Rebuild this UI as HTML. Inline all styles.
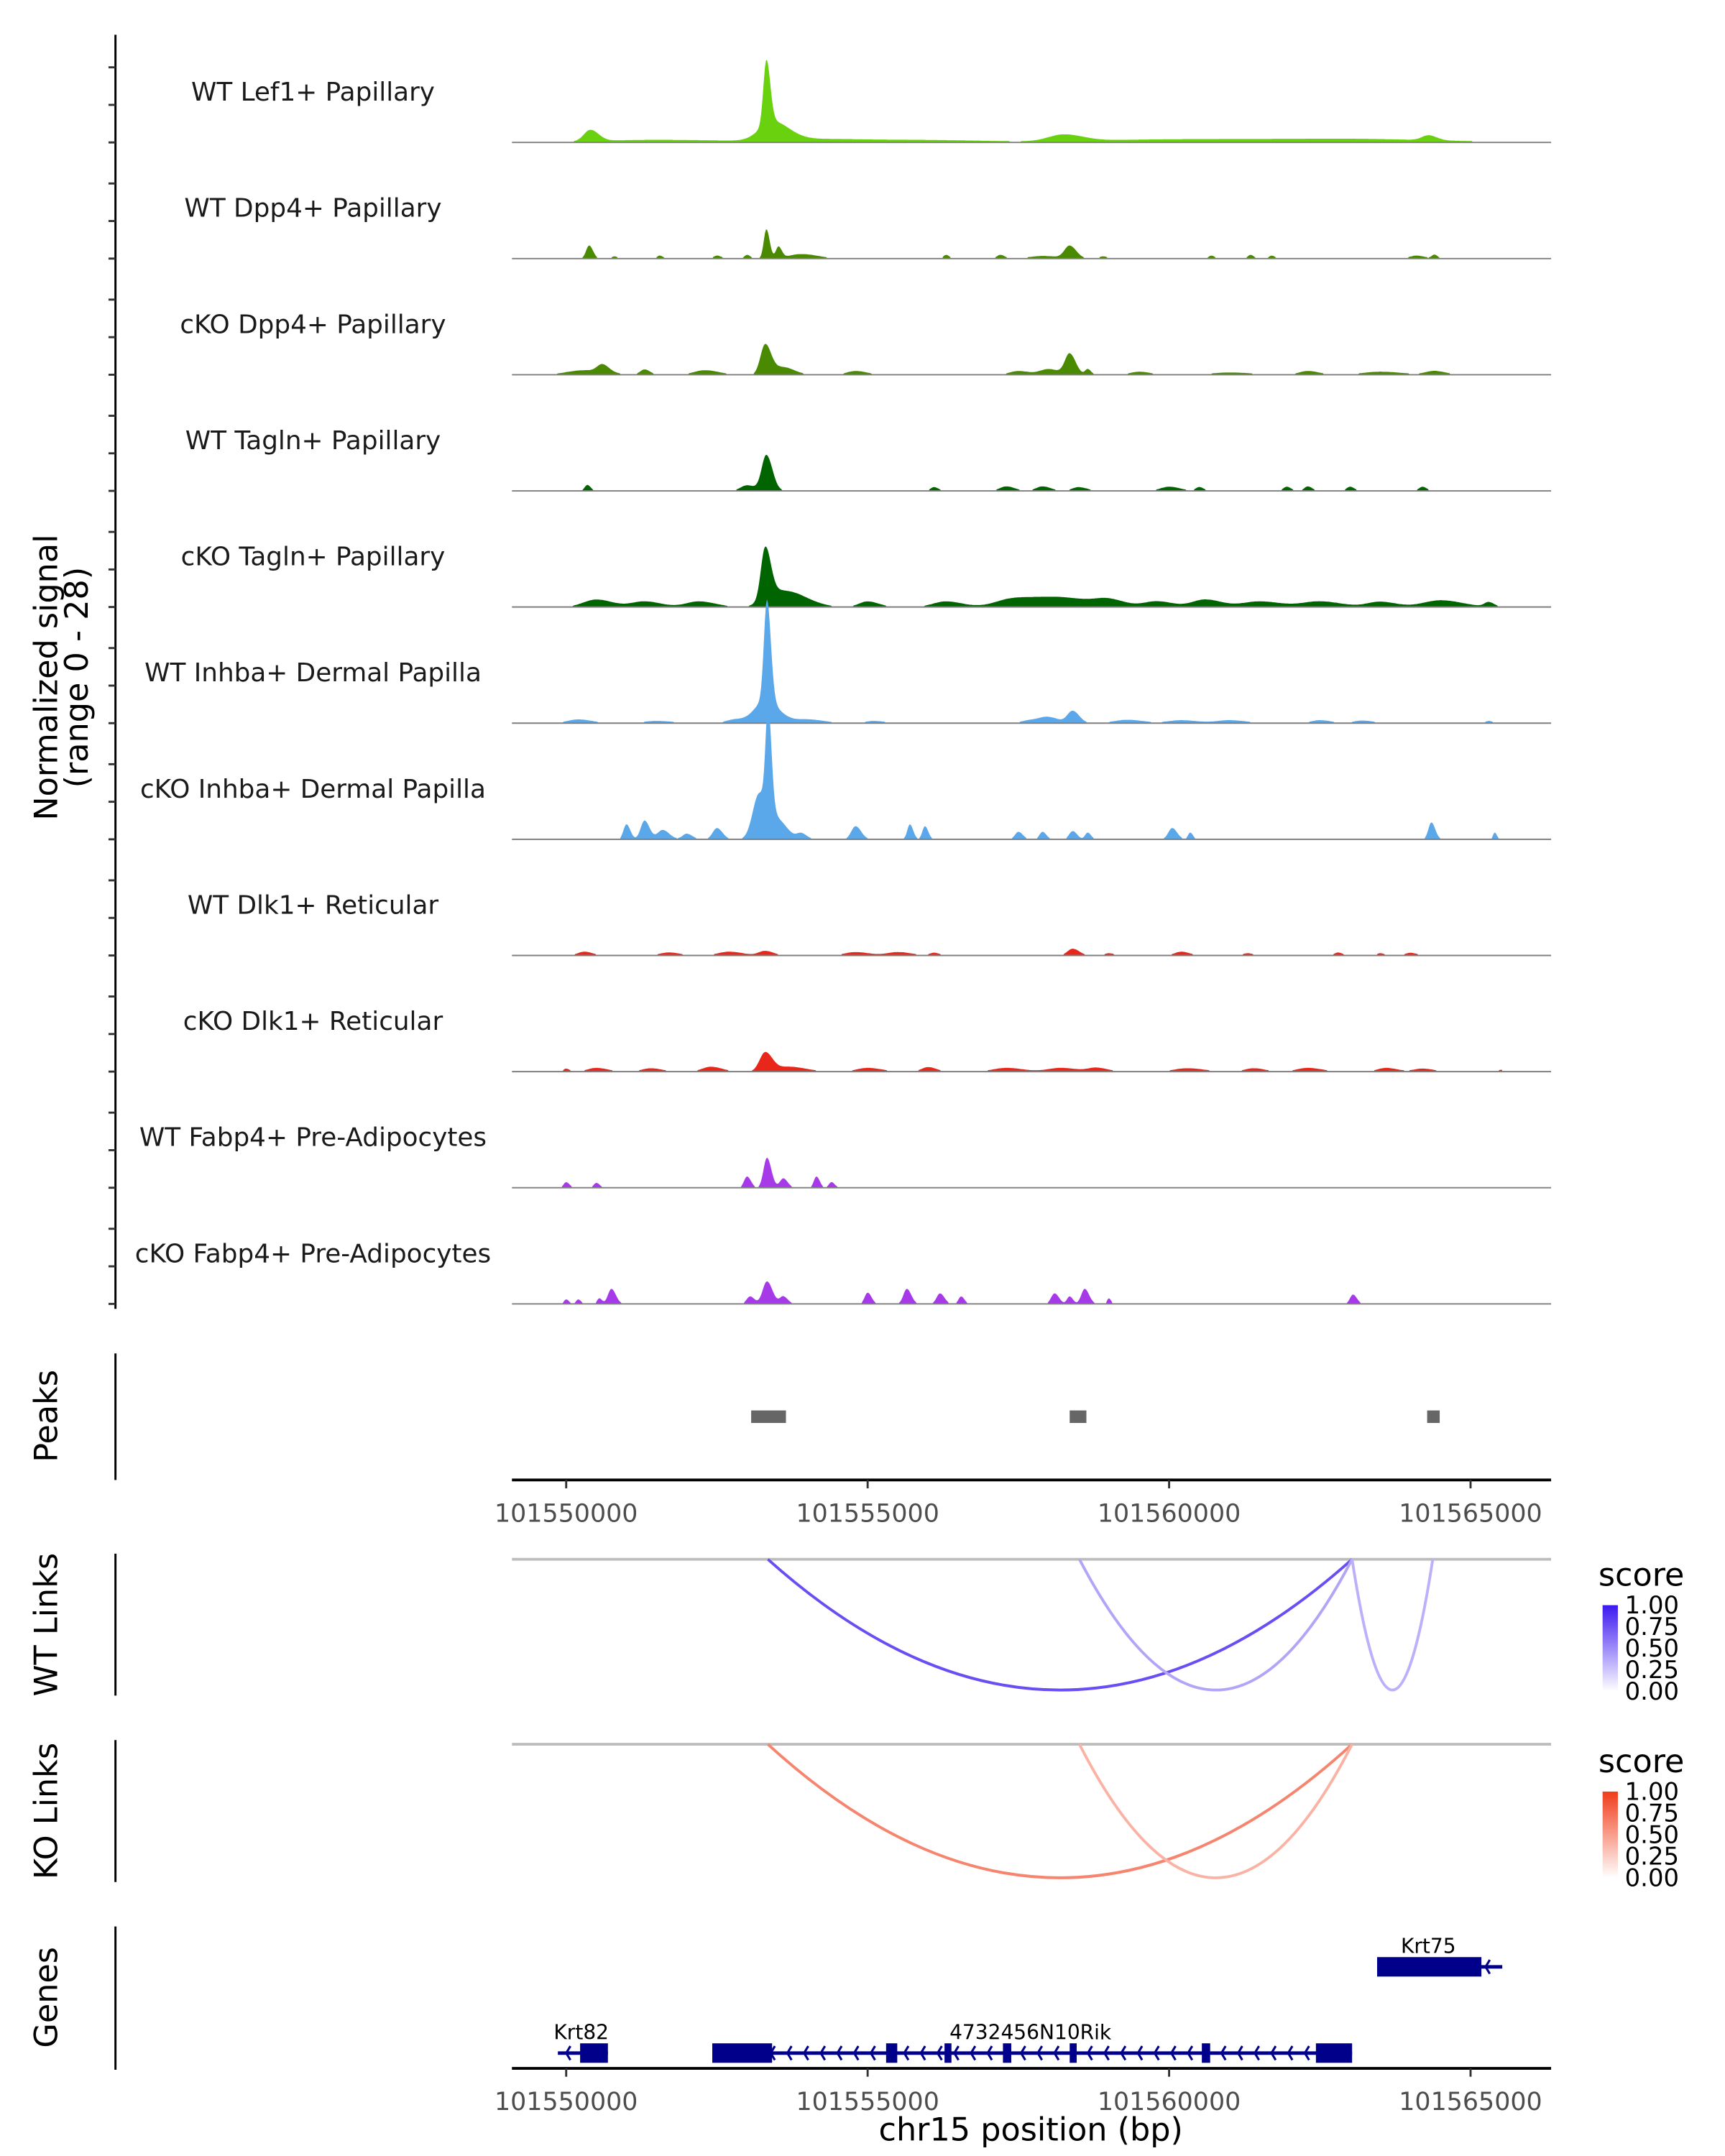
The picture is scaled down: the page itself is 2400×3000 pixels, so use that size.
<!DOCTYPE html>
<html><head><meta charset="utf-8"><style>
html,body{margin:0;padding:0;background:#fff}
svg{display:block;font-family:"DejaVu Sans","Liberation Sans",sans-serif}
</style></head><body>
<svg id="chart" width="2400" height="3000" viewBox="0 0 1240 1550" preserveAspectRatio="none" xmlns="http://www.w3.org/2000/svg">
<rect width="1240" height="1550" fill="#fff"/>
<g id="tracks"></g>
<g id="peaks"></g>
<g id="links"></g>
<g id="genes"></g>
<g id="axes"></g>
</svg>
<script>
const NS="http://www.w3.org/2000/svg";
// ---- data (positions are chr15 coordinates minus 101000000) ----
const xTicks=[101550000,101555000,101560000,101565000];
const trackNames=["WT Lef1+ Papillary","WT Dpp4+ Papillary","cKO Dpp4+ Papillary","WT Tagln+ Papillary","cKO Tagln+ Papillary","WT Inhba+ Dermal Papilla","cKO Inhba+ Dermal Papilla","WT Dlk1+ Reticular","cKO Dlk1+ Reticular","WT Fabp4+ Pre-Adipocytes","cKO Fabp4+ Pre-Adipocytes"];
const trackColors=["#6ad10f","#4a8a00","#4a8a00","#006400","#006400","#5aa8ea","#5aa8ea","#e8261a","#e8261a","#a63ae8","#a63ae8"];
// peaks per track: [position, height (0-28), width bp]
const trackPeaks=[
 [[550400,3,150],[553320,17,70],[553420,5,300],[551500,0.7,1400],[554200,0.8,900],[556000,0.6,1200],[558250,1.8,350],[559600,0.6,1500],[561800,0.6,2000],[564300,1.3,150],[563300,0.5,1500]],
 [[550380,3.5,70],[550800,0.6,60],[551550,0.8,60],[552500,0.8,80],[553000,1,60],[553320,7.8,60],[553520,3,60],[553900,1.2,300],[556300,1,60],[557200,1,80],[557900,0.7,300],[558350,3.3,120],[558900,0.6,80],[560700,0.8,60],[561350,1,60],[561700,0.8,60],[564100,0.8,150],[564400,1,60]],
 [[550300,1.2,400],[550600,2,120],[551300,1.4,100],[552300,1.2,250],[553300,8,110],[553600,2,200],[554800,1,200],[557500,1,200],[558000,1.5,200],[558350,5.5,110],[558650,1.5,60],[559500,0.8,200],[561000,0.6,400],[562300,1,200],[563500,0.8,400],[564400,1,200]],
 [[550350,1.6,60],[553320,9.5,110],[553000,1.5,150],[556100,1,80],[557300,1.2,150],[557900,1.2,150],[558500,1,150],[560000,1.1,200],[560500,1,80],[561950,1.1,80],[562300,1.2,80],[563000,1.1,80],[564200,1.1,80]],
 [[550500,2,300],[551300,1.5,300],[552200,1.5,300],[553300,13.5,100],[553500,4,300],[553900,1.8,300],[555000,1.5,200],[556300,1.5,300],[557400,2,400],[558200,2.5,600],[559000,1.5,300],[559800,1.5,300],[560600,2,300],[561500,1.5,400],[562500,1.5,400],[563500,1.4,300],[564500,1.8,400],[565300,1.2,100]],
 [[550200,1,250],[551500,0.6,300],[552800,1,200],[553330,27,70],[553300,6,250],[554000,1,300],[555100,0.6,200],[557700,0.8,200],[558400,3.2,120],[558000,1.5,200],[559300,0.9,300],[560200,0.8,300],[561000,0.8,300],[562500,0.8,200],[563200,0.7,200],[565300,0.6,80]],
 [[551000,4,70],[551300,5,90],[551600,2.5,120],[552000,1.5,100],[552500,3,100],[553350,27,60],[553200,12,150],[553500,5,180],[553900,1.5,100],[554800,3.5,100],[555700,4,60],[555950,3.5,60],[557500,2,80],[557900,2,70],[558400,2.2,80],[558650,1.8,60],[560050,3,90],[560350,1.8,50],[564350,4.5,70],[565400,1.8,40]],
 [[550300,1,150],[551700,0.8,200],[552700,1,250],[553300,1.2,150],[554800,0.9,250],[555500,0.9,250],[556100,0.7,100],[558400,1.8,120],[559000,0.6,100],[560200,1,150],[561300,0.6,100],[562800,0.8,80],[563500,0.6,80],[564000,0.7,120]],
 [[550000,0.8,60],[550500,1,200],[551400,0.9,200],[552400,1.3,200],[553300,5,130],[553700,1.3,300],[555000,1,250],[556000,1.2,150],[557300,1,300],[558200,1,300],[558800,1,200],[560300,0.9,300],[561400,0.9,200],[562300,1,250],[563600,1,200],[564200,0.8,200],[565500,0.5,60]],
 [[550000,1.5,60],[550500,1.3,60],[553000,3,70],[553330,8,80],[553600,2.5,80],[554150,3,60],[554400,1.5,60]],
 [[550000,1.2,50],[550200,1.2,50],[550550,1.5,50],[550750,4,80],[553050,2,80],[553330,6,100],[553600,2,80],[555000,3,70],[555650,4,80],[556200,2.8,80],[556550,2,60],[558100,2.8,80],[558350,2,60],[558600,4,80],[559000,1.5,40],[563050,2.5,70]]
];
const peakRegions=[[553068,553645],[558351,558628],[564280,564488]];
const wtLinks=[[553345,563035,0.75],[558513,563035,0.35],[563035,564373,0.3]];
const koLinks=[[553345,563035,0.6],[558513,563035,0.35]];
const legendTicks=["1.00","0.75","0.50","0.25","0.00"];
const genes=[
 {name:"Krt82",start:549862,end:550692,row:1,exons:[[550231,550692]],labelBp:550250},
 {name:"4732456N10Rik",start:552423,end:563035,row:1,exons:[[552423,553415],[555306,555491],[556275,556390],[557244,557382],[558351,558467],[560543,560681],[562435,563035]],labelBp:557700},
 {name:"Krt75",start:563450,end:565526,row:0,exons:[[563450,565180]],labelBp:564300}
];
// ---- scales ----
const OFFSET=101000000;
const X0=368,X1=1115;
function xs(bp){if(bp<1e8)bp+=OFFSET;return 407+(bp-101550000)/5000*216.7;}
const TRACK_H=83.5, FIRST_BASE=102.4, UNIT=75.6/28;
function ys(t,v){return FIRST_BASE+t*TRACK_H - v*UNIT;}
function el(tag,attrs,parent,text){const e=document.createElementNS(NS,tag);for(const k in attrs)e.setAttribute(k,attrs[k]);if(text!=null)e.textContent=text;parent.appendChild(e);return e;}

const gT=document.getElementById('tracks');
trackNames.forEach((name,t)=>{
  const base=ys(t,0);
  const g=el('g',{},gT);
  
  
  const lab=el('text',{x:225,y:base-30,'text-anchor':'middle','font-size':18.5,fill:'#1a1a1a'},g,name);
  
  
  let pts=[];const step=0.7;
  for(let x=X0+30;x<=1080;x+=step){
    const bp=(x-407)/216.7*5000+550000;
    let v=0;
    trackPeaks[t].forEach(p=>{const d=(bp-p[0])/p[2];v+=p[1]*Math.exp(-d*d*(d<0?1:0.6));});
    if(v<0.35)v=0;
    pts.push([x,v]);
  }
  let d='M'+pts[0][0]+','+base;
  pts.forEach(p=>{d+='L'+p[0].toFixed(1)+','+ys(t,p[1]).toFixed(1);});
  d+='L'+pts[pts.length-1][0]+','+base+'Z';
  const area=el('path',{d:d,fill:trackColors[t]},g);
  
  
  const bl=el('line',{x1:X0,x2:X1,y1:base,y2:base,stroke:'#7f7f7f','stroke-width':1},g);
  
  
});

const gA=document.getElementById('axes');
el('line',{x1:83,x2:83,y1:25,y2:941,stroke:'#000','stroke-width':1.5},gA);
for(let t=0;t<11;t++){for(let v of [0,10,20]){const y=ys(t,v);el('line',{x1:78,x2:83,y1:y,y2:y,stroke:'#333','stroke-width':1.5},gA);}}
const yl=el('text',{transform:'translate(41,487) rotate(-90)','text-anchor':'middle','font-size':23,fill:'#000'},gA,'Normalized signal');


el('text',{transform:'translate(63,487) rotate(-90)','text-anchor':'middle','font-size':23,fill:'#000'},gA,'(range 0 - 28)');

const gP=document.getElementById('peaks');
el('line',{x1:83,x2:83,y1:973,y2:1064,stroke:'#000','stroke-width':1.5},gP);
el('text',{transform:'translate(41,1018) rotate(-90)','text-anchor':'middle','font-size':23},gP,'Peaks');
peakRegions.forEach(p=>{const r=el('rect',{x:xs(p[0]),y:1014,width:xs(p[1])-xs(p[0]),height:9,fill:'#666'},gP);
 
 });
function xAxis(y,name){
  const g=el('g',{},gA);
  
  
  el('line',{x1:X0,x2:X1,y1:y,y2:y,stroke:'#000','stroke-width':2},g);
  xTicks.forEach(v=>{el('line',{x1:xs(v),x2:xs(v),y1:y,y2:y+6,stroke:'#333','stroke-width':1.5},g);
   el('text',{x:xs(v),y:y+30,'text-anchor':'middle','font-size':18,fill:'#4d4d4d'},g,String(v));});
}
xAxis(1064,'peaks-x-axis');
xAxis(1487,'genes-x-axis');
const xt=el('text',{x:741,y:1539,'text-anchor':'middle','font-size':23},gA,'chr15 position (bp)');



const gL=document.getElementById('links');
function linkPanel(top,base,bottom,title,links,hi,lo,gid){
  el('line',{x1:83,x2:83,y1:top,y2:top+102,stroke:'#000','stroke-width':1.5},gL);
  el('text',{transform:'translate(41,'+(top+51)+') rotate(-90)','text-anchor':'middle','font-size':23},gL,title);
  el('line',{x1:X0,x2:X1,y1:base,y2:base,stroke:'#bdbdbd','stroke-width':2},gL);
  links.forEach(l=>{const a=xs(l[0]),b=xs(l[1]);const depth=(bottom-base)*2;
    const c=lerp(lo,hi,l[2]);
    const p=el('path',{d:`M${a},${base} Q${(a+b)/2},${base+depth} ${b},${base}`,fill:'none',stroke:c,'stroke-width':2},gL);
    
    });
  const lg=el('g',{},gL);
  
  
  el('text',{x:1149,y:top+23,'font-size':23},lg,'score');
  const defs=el('defs',{},lg);
  const gr=el('linearGradient',{id:gid,x1:0,y1:0,x2:0,y2:1},defs);
  el('stop',{offset:0,'stop-color':hi},gr);el('stop',{offset:1,'stop-color':'#ffffff'},gr);
  el('rect',{x:1152,y:top+37,width:11,height:62,fill:'url(#'+gid+')'},lg);
  legendTicks.forEach((s,i)=>{const y=top+37+i*15.5;
    el('text',{x:1168,y:y+6,'font-size':17.5},lg,s);});
}
function lerp(lo,hi,t){const h=s=>[1,3,5].map(i=>parseInt(s.substr(i,2),16));const A=h(lo),B=h(hi);
 return 'rgb('+A.map((v,i)=>Math.round(v+(B[i]-v)*t)).join(',')+')';}
linkPanel(1117,1121,1215,'WT Links',wtLinks,'#3d18f0','#f4effd','gw');
linkPanel(1251,1254,1350,'KO Links',koLinks,'#f03c1a','#fff2ee','gk');

const gG=document.getElementById('genes');
el('line',{x1:83,x2:83,y1:1385,y2:1488,stroke:'#000','stroke-width':1.5},gG);
el('text',{transform:'translate(41,1436) rotate(-90)','text-anchor':'middle','font-size':23},gG,'Genes');
genes.forEach(g=>{
  const y=g.row===0?1414:1476;
  const gg=el('g',{},gG);
  
  
  el('line',{x1:xs(g.start),x2:xs(g.end),y1:y,y2:y,stroke:'#00008b','stroke-width':2.5},gg);
  for(let x=xs(g.start)+6;x<xs(g.end)-4;x+=12){el('path',{d:`M${x+3},${y-5} L${x},${y} L${x+3},${y+5}`,fill:'none',stroke:'#00008b','stroke-width':1.6},gg);}
  g.exons.forEach(e=>el('rect',{x:xs(e[0]),y:y-7,width:Math.max(3,xs(e[1])-xs(e[0])),height:14,fill:'#00008b'},gg));
  el('text',{x:xs(g.labelBp),y:y-10,'text-anchor':'middle','font-size':14.5},gg,g.name);
});
</script>
</body></html>
